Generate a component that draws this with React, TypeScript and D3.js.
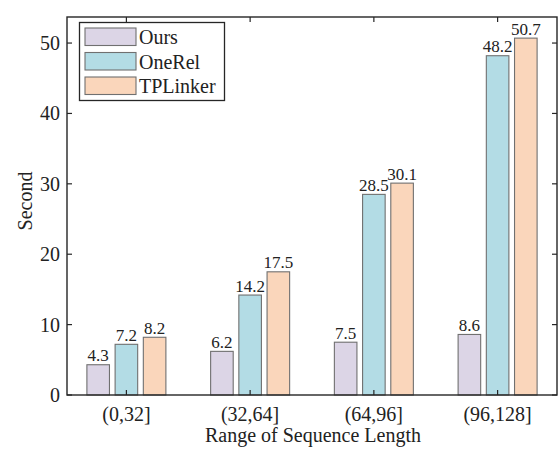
import React from "react";
import * as d3 from "d3";

const categories = ["(0,32]", "(32,64]", "(64,96]", "(96,128]"];
const seriesNames = ["Ours", "OneRel", "TPLinker"];
const ours = [4.3, 6.2, 7.5, 8.6];
const oneRel = [7.2, 14.2, 28.5, 48.2];
const tpLinker = [8.2, 17.5, 30.1, 50.7];
const yTicks = [0, 10, 20, 30, 40, 50];
const colors = ["#DCD5E6", "#B3DCE5", "#FAD6BB"];

const W = 560;
const H = 450;
const left = 67;
const right = 557;
const top = 17;
const bottom = 395;
const FONT = "'Liberation Serif', 'Times New Roman', serif";
const AX = "#262626";

export default function App() {
  const series = [ours, oneRel, tpLinker];
  const x = d3.scalePoint<string>().domain(categories).range([left, right]).padding(0.48);
  const inner = d3
    .scaleBand<string>()
    .domain(seriesNames)
    .range([-39.5, 39.5])
    .paddingInner(0.2)
    .paddingOuter(0);
  const y = d3.scaleLinear().domain([0, 53.7]).range([bottom, top]);
  const tickLen = 5;

  return (
    <svg
      width={W}
      height={H}
      style={{ position: "absolute", left: 0, top: 0 }}
      fontFamily={FONT}
    >
      <rect x={0} y={0} width={W} height={H} fill="#fff" />
      {/* bars */}
      {series.map((vals, si) =>
        vals.map((v, ci) => {
          const bx = (x(categories[ci]) as number) + (inner(seriesNames[si]) as number);
          const bw = inner.bandwidth();
          return (
            <g key={`${si}-${ci}`}>
              <rect
                x={bx}
                y={y(v)}
                width={bw}
                height={y(0) - y(v)}
                fill={colors[si]}
                stroke="#707070"
                strokeWidth={1.1}
              />
              <text
                x={bx + bw / 2}
                y={y(v) - 3.5}
                textAnchor="middle"
                fontSize={17}
                fill="#222"
              >
                {v.toFixed(1)}
              </text>
            </g>
          );
        })
      )}
      {/* frame */}
      <rect
        x={left}
        y={top}
        width={right - left}
        height={bottom - top}
        fill="none"
        stroke={AX}
        strokeWidth={1.4}
      />
      {/* y ticks */}
      {yTicks.map((t) => (
        <g key={`y${t}`}>
          <line x1={left} x2={left + tickLen} y1={y(t)} y2={y(t)} stroke={AX} strokeWidth={1.2} />
          <line x1={right} x2={right - tickLen} y1={y(t)} y2={y(t)} stroke={AX} strokeWidth={1.2} />
          <text x={left - 7} y={y(t)} dy="0.35em" textAnchor="end" fontSize={20} fill="#222">
            {t}
          </text>
        </g>
      ))}
      {/* x ticks */}
      {categories.map((c) => (
        <g key={`x${c}`}>
          <line x1={x(c)} x2={x(c)} y1={bottom} y2={bottom - tickLen} stroke={AX} strokeWidth={1.2} />
          <line x1={x(c)} x2={x(c)} y1={top} y2={top + tickLen} stroke={AX} strokeWidth={1.2} />
          <text x={x(c)} y={421} textAnchor="middle" fontSize={20} fill="#222">
            {c}
          </text>
        </g>
      ))}
      {/* axis labels */}
      <text x={313} y={442} textAnchor="middle" fontSize={20} fill="#222">
        Range of Sequence Length
      </text>
      <text
        transform={`translate(32,201) rotate(-90)`}
        textAnchor="middle"
        fontSize={20}
        fill="#222"
      >
        Second
      </text>
      {/* legend */}
      <rect x={79.5} y={22.5} width={145} height={78} fill="#fff" stroke={AX} strokeWidth={1.3} />
      {seriesNames.map((n, i) => (
        <g key={n}>
          <rect
            x={85}
            y={28 + i * 24.5}
            width={51}
            height={17.5}
            fill={colors[i]}
            stroke="#707070"
            strokeWidth={1.1}
          />
          <text x={139} y={44 + i * 24.5} fontSize={20} fill="#222">
            {n}
          </text>
        </g>
      ))}
    </svg>
  );
}
